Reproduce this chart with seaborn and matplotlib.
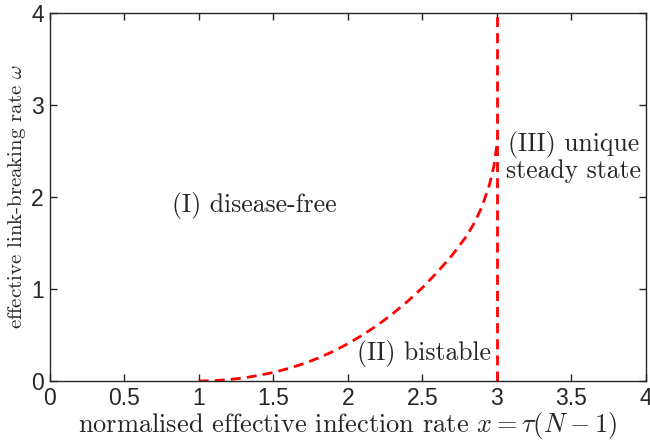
import matplotlib
matplotlib.use('Agg')
import matplotlib.pyplot as plt
import seaborn as sns
import pandas as pd

# boundary between (I) and (II)
curve_x = [1.0, 1.1, 1.2, 1.3, 1.4, 1.5, 1.6, 1.7, 1.8, 1.9, 2.0, 2.1, 2.2,
           2.3, 2.4, 2.5, 2.6, 2.7, 2.8, 2.85, 2.9, 2.95, 2.98, 3.0]
curve_w = [0.0, 0.004, 0.015, 0.033, 0.06, 0.093, 0.135, 0.186, 0.247, 0.32,
           0.404, 0.5, 0.607, 0.728, 0.863, 1.012, 1.18, 1.365, 1.58, 1.72,
           1.89, 2.13, 2.33, 2.56]

# vertical boundary x = 3
vline_x = [3.0, 3.0]
vline_w = [0.0, 4.0]

x_ticks = [0, 0.5, 1, 1.5, 2, 2.5, 3, 3.5, 4]
x_ticklabels = ['0', '0.5', '1', '1.5', '2', '2.5', '3', '3.5', '4']
y_ticks = [0, 1, 2, 3, 4]

region_labels = ['(I) disease-free', '(II) bistable', '(III) unique\nsteady state']
region_x = [0.82, 2.06, 3.06]
region_y = [1.91, 0.30, 2.43]

sns.set_style('ticks')
plt.rcParams['mathtext.fontset'] = 'cm'
plt.rcParams['font.family'] = ['Liberation Sans', 'DejaVu Sans']
plt.rcParams['axes.formatter.use_mathtext'] = False

fig = plt.figure(figsize=(6.5, 4.45), dpi=100)
ax = fig.add_axes([0.0762, 0.1438, 0.9176, 0.8281])

curve = pd.DataFrame({'x': curve_x, 'w': curve_w})
vline = pd.DataFrame({'x': vline_x, 'w': vline_w})

sns.lineplot(data=curve, x='x', y='w', ax=ax, color='red', lw=2,
             estimator=None, sort=False, dashes=False)
sns.lineplot(data=vline, x='x', y='w', ax=ax, color='red', lw=2,
             estimator=None, sort=False, dashes=False)
for ln in ax.lines:
    ln.set_dashes((3.6, 2.2))

ax.set_xlim(0, 4)
ax.set_ylim(0, 4)
ax.set_xticks(x_ticks)
ax.set_xticklabels(x_ticklabels)
ax.set_yticks(y_ticks)
ax.set_yticklabels([str(v) for v in y_ticks])

for s in ax.spines.values():
    s.set_visible(True)
    s.set_color('#262626')
    s.set_linewidth(1.0)
ax.tick_params(direction='in', length=5, width=1.0, top=True, right=True,
               labelsize=16.5, colors='#262626', pad=4)

ax.set_xlabel(r'normalised effective infection rate $x = \tau(N-1)$',
              family='cmr10', fontsize=19, labelpad=0)
ax.set_ylabel(r'effective link-breaking rate $\omega$',
              family='cmr10', fontsize=15, labelpad=2)

for lab, tx, ty in zip(region_labels, region_x, region_y):
    ax.text(tx, ty, lab, family='cmr10', fontsize=18.5, ha='left', va='center',
            multialignment='center', linespacing=1.05)

fig.savefig('out.png', dpi=100)
